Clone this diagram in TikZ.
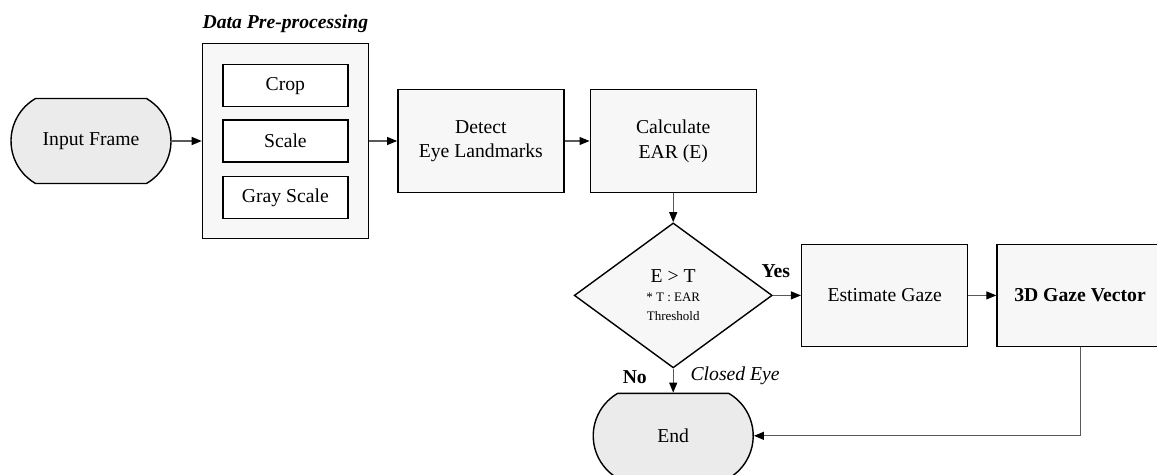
\documentclass[tikz,border=0pt]{standalone}
\usepackage{fontspec}
\setmainfont{Liberation Serif}
\usetikzlibrary{positioning, shapes.geometric, shapes.misc, arrows.meta}

\newcommand{\thrfont}{\fontsize{7.4}{9.6}\selectfont}

\begin{document}
\begin{tikzpicture}[
                font=\fontsize{11.2}{14}\selectfont,
                termnode/.style={rounded rectangle, rounded rectangle arc length=120, draw=black, fill=black!8, line width=0.8pt, minimum width=3.2cm, minimum height=1.7cm, inner sep=0pt},
                squarednode/.style={rectangle, draw=black, fill=black!3, line width=0.8pt, minimum width=3.32cm, minimum height=2.06cm, align=center},
                stepnode/.style={rectangle, draw=black, fill=white, line width=0.8pt, minimum width=2.5cm, minimum height=0.84cm},
                decnode/.style={diamond, draw=black, fill=black!3, line width=0.8pt, minimum width=3.96cm, minimum height=2.9cm, inner sep=0pt, align=center},
                arr/.style={draw=black!65, line width=0.6pt, -{Triangle[length=2mm, width=1.6mm, color=black]}},
                ]
                \clip (0,0) rectangle (23.14,-9.5);
                %Nodes
                \node[termnode]         (input)     at (1.82,-2.82)          {Input Frame};
                \node[squarednode, minimum height=3.9cm] (prep) [right=0.6cm of input] {};
                \node[stepnode]         (scale)     at (prep.center)         {Scale};
                \node[stepnode]         (crop)      [above=0.24cm of scale]  {Crop};
                \node[stepnode]         (gray)      [below=0.26cm of scale]  {Gray Scale};
                \node[font=\fontsize{11.2}{14}\bfseries\itshape] (title) [above=0.08cm of prep] {Data Pre-processing};
                \node[squarednode]      (detect)    [right=0.56cm of prep]   {Detect\\Eye Landmarks};
                \node[squarednode]      (calc)      [right=0.5cm of detect]  {Calculate\\EAR (E)};
                \node[decnode]          (dec)       [below=0.58cm of calc]   {E > T\\[-3.5pt]\thrfont * T : EAR\\[-3pt]\thrfont Threshold};
                \node[squarednode, minimum height=2.04cm] (estimate) [right=0.56cm of dec] {Estimate Gaze};
                \node[squarednode, minimum height=2.04cm, font=\fontsize{11.2}{14}\bfseries] (gaze) [right=0.56cm of estimate] {3D Gaze Vector};
                \node[termnode]         (end)       [below=0.48cm of dec]    {End};

                %Lines
                \draw[arr] (input.east) -- (prep.west);
                \draw[arr] (prep.east) -- (detect.west);
                \draw[arr] (detect.east) -- (calc.west);
                \draw[arr] (calc.south) -- (dec.north);
                \draw[arr] (dec.east) -- node[pos=0.1, above=0.22cm, font=\fontsize{11.2}{14}\bfseries] {Yes} (estimate.west);
                \draw[arr] (estimate.east) -- (gaze.west);
                \draw[arr] (dec.south) -- node[pos=0.35, left=0.4cm, font=\fontsize{11.2}{14}\bfseries] {No}
                                          node[pos=0.3, right=0.22cm, font=\fontsize{11.2}{14}\itshape] {Closed Eye} (end.north);
                \draw[arr] (gaze.south) |- (end.east);
\end{tikzpicture}
\end{document}
